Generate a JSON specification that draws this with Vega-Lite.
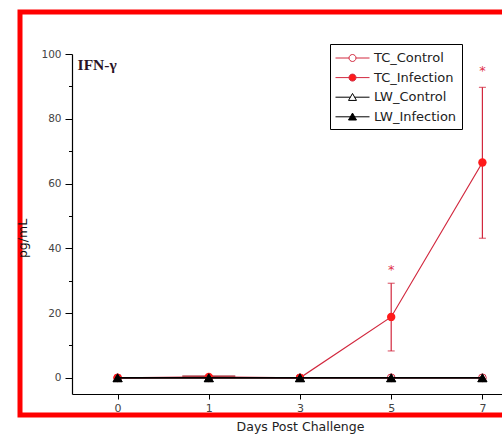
{
  "$schema": "https://vega.github.io/schema/vega-lite/v6.json",
  "autosize": {"type": "none"},
  "padding": {"left": 20, "top": 12, "right": 0, "bottom": 22},
  "width": 482,
  "height": 403,
  "background": "white",
  "view": {"stroke": "#ff0000", "strokeWidth": 5, "strokeDash": [482, 403, 885]},
  "datasets": {
    "cytokine": [
      {"day": "0", "series": "TC_Control", "value": 0, "lo": 0, "hi": 0},
      {"day": "1", "series": "TC_Control", "value": 0, "lo": 0, "hi": 0},
      {"day": "3", "series": "TC_Control", "value": 0, "lo": 0, "hi": 0},
      {"day": "5", "series": "TC_Control", "value": 0, "lo": 0, "hi": 0},
      {"day": "7", "series": "TC_Control", "value": 0, "lo": 0, "hi": 0},
      {"day": "0", "series": "TC_Infection", "value": 0, "lo": 0, "hi": 0},
      {"day": "1", "series": "TC_Infection", "value": 0.3, "lo": 0.2, "hi": 0.4},
      {"day": "3", "series": "TC_Infection", "value": 0, "lo": 0, "hi": 0},
      {"day": "5", "series": "TC_Infection", "value": 18.8, "lo": 8.3, "hi": 29.2},
      {"day": "7", "series": "TC_Infection", "value": 66.5, "lo": 43.1, "hi": 89.7},
      {"day": "0", "series": "LW_Control", "value": 0, "lo": 0, "hi": 0},
      {"day": "1", "series": "LW_Control", "value": 0, "lo": 0, "hi": 0},
      {"day": "3", "series": "LW_Control", "value": 0, "lo": 0, "hi": 0},
      {"day": "5", "series": "LW_Control", "value": 0, "lo": 0, "hi": 0},
      {"day": "7", "series": "LW_Control", "value": 0, "lo": 0, "hi": 0},
      {"day": "0", "series": "LW_Infection", "value": 0, "lo": 0, "hi": 0},
      {"day": "1", "series": "LW_Infection", "value": 0, "lo": 0, "hi": 0},
      {"day": "3", "series": "LW_Infection", "value": 0, "lo": 0, "hi": 0},
      {"day": "5", "series": "LW_Infection", "value": 0, "lo": 0, "hi": 0},
      {"day": "7", "series": "LW_Infection", "value": 0, "lo": 0, "hi": 0}
    ],
    "significance": [
      {"day": "5", "y": 34, "mark": "*"},
      {"day": "7", "y": 95.5, "mark": "*"}
    ],
    "panel": [
      {"day": "0", "y": 96.5, "name": "IFN-γ"}
    ]
  },
  "data": {"name": "cytokine"},
  "resolve": {"scale": {"y": "shared"}, "axis": {"y": "independent"}},
  "encoding": {
    "x": {
      "field": "day",
      "type": "ordinal",
      "sort": ["0", "1", "3", "5", "7"],
      "scale": {"type": "point", "range": [52, 508], "padding": 0.5},
      "axis": {
        "title": "Days Post Challenge",
        "labelAngle": 0,
        "offset": -21,
        "domainColor": "black",
        "domainWidth": 1.2,
        "tickColor": "black",
        "tickWidth": 1,
        "tickSize": 5,
        "labelPadding": 3,
        "labelFont": "DejaVu Sans",
        "labelFontSize": 11,
        "labelColor": "#444",
        "titleFont": "DejaVu Sans",
        "titleFontSize": 12.5,
        "titleFontWeight": "normal",
        "titleColor": "#222",
        "titlePadding": 7
      }
    }
  },
  "layer": [
    {
      "transform": [{"filter": "indexof(datum.series, 'TC') === 0"}],
      "mark": {"type": "line", "strokeWidth": 1.2},
      "encoding": {
        "y": {
          "field": "value",
          "type": "quantitative",
          "scale": {"domain": [-5, 100], "range": [382, 42], "nice": false, "zero": false},
          "axis": {
            "orient": "left",
            "title": "pg/mL",
            "offset": -52,
            "values": [0, 20, 40, 60, 80, 100],
            "grid": false,
            "domainColor": "black",
            "domainWidth": 1.2,
            "tickColor": "black",
            "tickWidth": 1,
            "tickSize": 7,
            "labelPadding": 4,
            "labelFont": "DejaVu Sans",
            "labelFontSize": 10.5,
            "labelColor": "#444",
            "titleFont": "DejaVu Sans",
            "titleFontSize": 12.5,
            "titleFontWeight": "normal",
            "titleColor": "#111",
            "titleX": -46,
            "titleY": 226,
            "titleAngle": -90,
            "titleAlign": "center",
            "titleBaseline": "alphabetic"
          }
        },
        "color": {
          "field": "series",
          "type": "nominal",
          "scale": {
            "domain": ["TC_Control", "TC_Infection", "LW_Control", "LW_Infection"],
            "range": ["#d2283e", "#d2283e", "#000000", "#000000"]
          },
          "legend": {
            "title": null,
            "orient": "none",
            "legendX": 310,
            "legendY": 32,
            "fillColor": "white",
            "strokeColor": "black",
            "padding": 5,
            "symbolSize": 289,
            "symbolStrokeWidth": 1,
            "labelFont": "DejaVu Sans",
            "labelFontSize": 13,
            "labelColor": "#222",
            "labelOffset": 21,
            "rowPadding": 3.6,
            "encode": {
              "symbols": {
                "update": {
                  "shape": {"signal": "indexof(datum.value, 'TC') === 0 ? 'M-1,0L0.59,0M1.41,0L3,0M1.41,0C1.41,0.2264,1.2264,0.41,1,0.41C0.7736,0.41,0.59,0.2264,0.59,0C0.59,-0.2264,0.7736,-0.41,1,-0.41C1.2264,-0.41,1.41,-0.2264,1.41,0Z' : 'M-1,0L0.75,0M1.25,0L3,0M1,-0.44L1.47,0.38L0.53,0.38Z'"},
                  "fill": {"signal": "indexof(datum.value, 'Control') >= 0 ? 'white' : (indexof(datum.value, 'TC') === 0 ? '#ff1a1a' : 'black')"},
                  "strokeWidth": {"value": 1}
                }
              }
            }
          }
        },
        "detail": {"field": "series"}
      }
    },
    {
      "transform": [{"filter": "datum.series === 'TC_Infection' && (datum.day === '5' || datum.day === '7')"}],
      "mark": {"type": "rule", "color": "#d2283e", "strokeWidth": 1.2},
      "encoding": {
        "y": {"field": "lo", "type": "quantitative", "axis": null},
        "y2": {"field": "hi"}
      }
    },
    {
      "transform": [{"filter": "datum.series === 'TC_Infection' && (datum.day === '5' || datum.day === '7')"}],
      "mark": {"type": "tick", "color": "#d2283e", "size": 7, "thickness": 1.2, "orient": "horizontal"},
      "encoding": {"y": {"field": "lo", "type": "quantitative", "axis": null}}
    },
    {
      "transform": [{"filter": "datum.series === 'TC_Infection' && (datum.day === '5' || datum.day === '7')"}],
      "mark": {"type": "tick", "color": "#d2283e", "size": 7, "thickness": 1.2, "orient": "horizontal"},
      "encoding": {"y": {"field": "hi", "type": "quantitative", "axis": null}}
    },
    {
      "transform": [{"filter": "datum.series === 'TC_Infection' && datum.day === '1'"}],
      "mark": {"type": "tick", "color": "#9a1c28", "size": 53, "thickness": 2.4, "orient": "horizontal"},
      "encoding": {"y": {"field": "hi", "type": "quantitative", "axis": null}}
    },
    {
      "transform": [{"filter": "datum.series === 'TC_Control'"}],
      "mark": {"type": "point", "shape": "circle", "filled": false, "size": 60, "strokeWidth": 1, "color": "#d2283e", "fill": "white", "fillOpacity": 1},
      "encoding": {"y": {"field": "value", "type": "quantitative", "axis": null}}
    },
    {
      "transform": [{"filter": "datum.series === 'TC_Infection'"}],
      "mark": {"type": "point", "shape": "circle", "filled": true, "size": 70, "color": "#ff1a1a", "opacity": 1},
      "encoding": {"y": {"field": "value", "type": "quantitative", "axis": null}}
    },
    {
      "transform": [{"filter": "indexof(datum.series, 'LW') === 0"}],
      "mark": {"type": "line", "strokeWidth": 1.5},
      "encoding": {
        "y": {
          "field": "value",
          "type": "quantitative",
          "axis": {
            "orient": "left",
            "offset": -52,
            "values": [10, 30, 50, 70, 90],
            "labels": false,
            "domain": false,
            "grid": false,
            "title": null,
            "tickColor": "black",
            "tickWidth": 1,
            "tickSize": 3.5
          }
        },
        "color": {"field": "series", "type": "nominal"},
        "detail": {"field": "series"}
      }
    },
    {
      "transform": [{"filter": "datum.series === 'LW_Control'"}],
      "mark": {"type": "point", "shape": "triangle-up", "filled": false, "size": 85, "strokeWidth": 1, "color": "black", "fill": "white", "fillOpacity": 1},
      "encoding": {"y": {"field": "value", "type": "quantitative", "axis": null}}
    },
    {
      "transform": [{"filter": "datum.series === 'LW_Infection'"}],
      "mark": {"type": "point", "shape": "triangle-up", "filled": true, "size": 95, "color": "black", "opacity": 1},
      "encoding": {"y": {"field": "value", "type": "quantitative", "axis": null}}
    },
    {
      "data": {"name": "significance"},
      "mark": {"type": "text", "color": "#e0304a", "font": "DejaVu Sans", "fontSize": 13, "baseline": "middle", "align": "center", "dy": 2},
      "encoding": {
        "y": {"field": "y", "type": "quantitative", "axis": null},
        "text": {"field": "mark"}
      }
    },
    {
      "data": {"name": "panel"},
      "mark": {"type": "text", "color": "#2a1426", "font": "Liberation Serif", "fontSize": 15.5, "fontWeight": "bold", "baseline": "middle", "align": "left", "dx": -40},
      "encoding": {
        "y": {"field": "y", "type": "quantitative", "axis": null},
        "text": {"field": "name"}
      }
    }
  ]
}
